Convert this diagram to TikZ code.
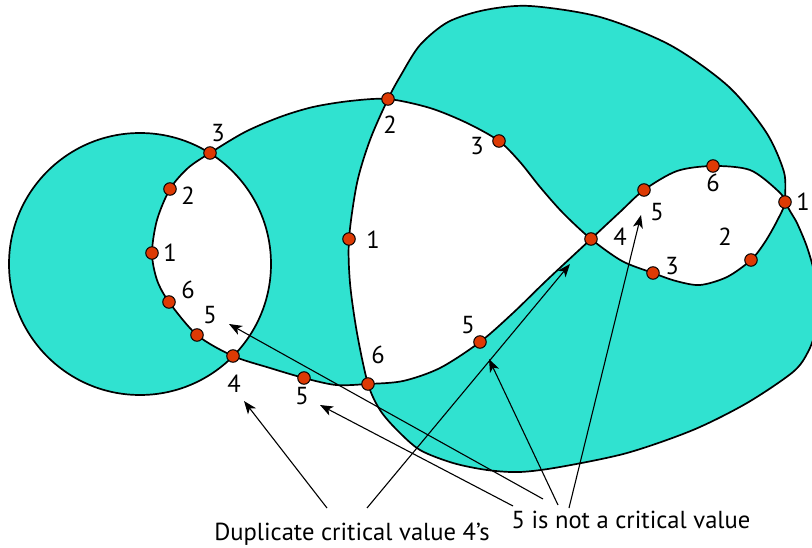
\documentclass[tikz,border=0pt]{standalone}
\usepackage{fontspec}
\setmainfont{PT Sans}
\usetikzlibrary{arrows.meta}
\definecolor{tealfill}{RGB}{48,226,208}
\definecolor{dotred}{RGB}{221,58,4}
\begin{document}
\begin{tikzpicture}[x=1pt,y=-1pt,
  curve/.style={line width=1.7pt, draw=black, line join=round},
  dot/.style={circle, fill=dotred, draw=black, line width=1pt, minimum size=12.5pt, inner sep=0pt},
  lbl/.style={font=\fontsize{24.6}{30}\selectfont, inner sep=0pt},
  callout/.style={line width=1.1pt, -{Stealth[length=13pt,width=10pt,inset=3.5pt]}}]
\useasboundingbox (0,0) rectangle (812,548);
\begin{scope}
\clip (0,0) rectangle (812,548);
\path[fill=tealfill, even odd rule, curve]
  (140,264) circle[radius=131pt]
  plot[smooth cycle] coordinates {(152,253) (157,220) (170,189) (188,168) (210,153) (245,132) (280,117) (313,107) (350,101) (388,99) (430,108) (467,123) (499,141) (520,162) (540,187) (563,213) (591,239) (622,261) (653,273) (676,281) (700,285) (727,277) (751,260) (765,242) (777,221) (785,202) (777,190) (750,170) (713,166) (677,171) (644,190) (620,212) (591,239) (547,280) (513,313) (480,342) (440,368) (403,381) (368,384) (336,385) (304,378) (270,368) (233,356) (197,335) (169,302) (157,280)}
  plot[smooth cycle] coordinates {(388,99) (401,75) (420,45) (448,22) (485,10) (530,6) (600,17) (670,45) (728,86) (766,132) (784,172) (786,202) (797,223) (807,247) (815,275) (820,305) (816,330) (808,352) (793,372) (747,403) (693,430) (627,453) (560,467) (520,472) (487,470) (453,463) (420,450) (397,430) (380,410) (368,384) (357,333) (350,283) (349,239) (357,183) (370,140)};
\end{scope}
% labels
\node[lbl] (tl3) at (218,133) {3};
\node[lbl] (tl2) at (188,196) {2};
\node[lbl] (tl1) at (170,253) {1};
\node[lbl] (tl6) at (188,290) {6};
\node[lbl] (tl5) at (210,315) {5};
\node[lbl] (tl4) at (234,384) {4};
\node[lbl] (tm2) at (390,125) {2};
\node[lbl] (tm3) at (477,146) {3};
\node[lbl] (tm1) at (373,240) {1};
\node[lbl] (tm5) at (468,325) {5};
\node[lbl] (tm6) at (378,355) {6};
\node[lbl] (tb5) at (302,396) {5};
\node[lbl] (tm4) at (620,237) {4};
\node[lbl] (tr5) at (657,212) {5};
\node[lbl] (tr6) at (713,183) {6};
\node[lbl] (tr1) at (803,202) {1};
\node[lbl] (tr2) at (725,237) {2};
\node[lbl] (tr3) at (672,266) {3};
\node[lbl, anchor=base] (dup) at (352,540) {Duplicate critical value 4’s};
\node[lbl, anchor=base] (notc) at (631,528) {5 is not a critical value};
% callouts
\coordinate (d1) at (327,508);
\coordinate (d2) at (367,508);
\coordinate (n1) at (513,506);
\coordinate (n2) at (543,499);
\coordinate (n3) at (558,505);
\coordinate (n4) at (569,508);
\coordinate (t1) at (244,401);
\coordinate (t2) at (570,264);
\coordinate (ta) at (320,405);
\coordinate (tb) at (229,324);
\coordinate (tc) at (489,359);
\coordinate (td) at (641,215);
\draw[callout] (d1) -- (t1);
\draw[callout] (d2) -- (t2);
\draw[callout] (n1) -- (ta);
\draw[callout] (n2) -- (tb);
\draw[callout] (n3) -- (tc);
\draw[callout] (n4) -- (td);
% dots
\node[dot] (l3) at (210,153) {};
\node[dot] (l2) at (170,189) {};
\node[dot] (l1) at (152,253) {};
\node[dot] (l6) at (169,302) {};
\node[dot] (l5) at (197,335) {};
\node[dot] (l4) at (233,356) {};
\node[dot] (m2) at (388,99) {};
\node[dot] (m3) at (499,141) {};
\node[dot] (m4) at (591,239) {};
\node[dot] (m5) at (480,342) {};
\node[dot] (m6) at (368,384) {};
\node[dot] (m1) at (349,239) {};
\node[dot] (b5) at (304,378) {};
\node[dot] (r5) at (644,190) {};
\node[dot] (r6) at (713,166) {};
\node[dot] (r1) at (785,202) {};
\node[dot] (r2) at (751,260) {};
\node[dot] (r3) at (653,273) {};
\end{tikzpicture}
\end{document}
